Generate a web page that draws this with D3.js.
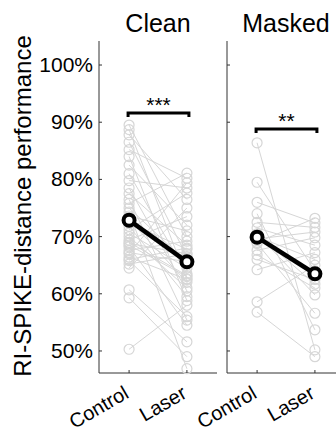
<!DOCTYPE html>
<html>
<head>
<meta charset="utf-8">
<script src="https://cdn.jsdelivr.net/npm/d3@7"></script>
<style>
  html, body { margin: 0; padding: 0; background: #fff; }
  svg { display: block; font-family: "Liberation Sans", Arial, sans-serif; }
</style>
</head>
<body>
<div id="chart"></div>
<script>
// conditions on x
const conditions = ['Control', 'Laser'];
const panelTitles = ['Clean', 'Masked'];
const sigStars = ['***', '**'];
const sigLevels = [91.6, 88.8];
const yTicks = [50, 60, 70, 80, 90, 100];

// paired performance values (%), one entry per recording
const cleanControl = [89.5, 88.7, 87.8, 86.5, 85.2, 84.0, 82.5, 81.0, 79.8, 78.5, 77.5, 76.5, 75.8, 75.0, 74.3, 73.6, 73.0, 72.4, 71.8, 71.2, 70.6, 70.0, 69.4, 69.0, 68.8, 68.5, 68.2, 67.6, 67.2, 67.0, 66.4, 66.0, 65.8, 65.2, 64.5, 60.7, 59.3, 50.3];
const cleanLaser = [70.0, 62.6, 76.5, 66.5, 80.2, 58.8, 72.0, 63.5, 78.5, 60.5, 68.5, 55.4, 81.1, 65.5, 46.9, 71.0, 62.0, 67.8, 59.5, 77.6, 64.5, 61.0, 73.5, 63.2, 67.0, 63.0, 54.5, 69.2, 65.6, 79.4, 62.5, 68.0, 56.0, 67.0, 75.0, 51.6, 49.0, 58.0];
const maskedControl = [86.4, 79.5, 76.0, 74.0, 72.5, 71.5, 70.5, 69.0, 70.0, 70.4, 69.6, 68.8, 67.6, 66.8, 66.0, 64.2, 58.6, 56.8];
const maskedLaser = [50.2, 64.0, 72.4, 53.7, 71.6, 68.5, 59.8, 73.2, 66.0, 61.7, 70.8, 56.6, 69.8, 61.0, 62.5, 67.2, 65.0, 49.0];

const width = 336, height = 434;
const plotTop = 41, plotBottom = 373;
const panelW = 118;
const panelX = [99, 227];
const axisColor = '#333';
const grey = '#d6d6d6';

const svg = d3.select('#chart').append('svg')
  .attr('width', width)
  .attr('height', height);

const y = d3.scaleLinear().domain([46.15, 104.2]).range([plotBottom, plotTop]);

// y label
svg.append('text')
  .attr('transform', `translate(31,206) rotate(-90)`)
  .attr('text-anchor', 'middle')
  .attr('font-size', 24)
  .attr('fill', '#000')
  .text('RI-SPIKE-distance performance');

// tick labels on the first panel only
svg.append('g')
  .selectAll('text')
  .data(yTicks)
  .join('text')
  .attr('x', panelX[0] - 6)
  .attr('y', d => y(d) + 7)
  .attr('text-anchor', 'end')
  .attr('font-size', 21)
  .text(d => d + '%');

function drawPanel(i, ctrl, laser) {
  const x0 = panelX[i];
  const x = d3.scalePoint().domain(conditions).range([x0, x0 + panelW]).padding(0.52);
  const g = svg.append('g');

  // axes
  g.append('line').attr('x1', x0).attr('x2', x0).attr('y1', plotTop).attr('y2', plotBottom)
    .attr('stroke', axisColor).attr('stroke-width', 1);
  g.append('line').attr('x1', x0).attr('x2', x0 + panelW).attr('y1', plotBottom).attr('y2', plotBottom)
    .attr('stroke', axisColor).attr('stroke-width', 1);

  g.selectAll('.ytick').data(yTicks).join('line')
    .attr('x1', x0).attr('x2', x0 + 3)
    .attr('y1', d => y(d)).attr('y2', d => y(d))
    .attr('stroke', axisColor);
  g.selectAll('.xtick').data(conditions).join('line')
    .attr('x1', d => x(d)).attr('x2', d => x(d))
    .attr('y1', plotBottom).attr('y2', plotBottom - 3)
    .attr('stroke', axisColor);

  // x labels, rotated
  g.selectAll('.xlab').data(conditions).join('text')
    .attr('transform', d => `translate(${x(d) + 1},${plotBottom + 24}) rotate(-30)`)
    .attr('text-anchor', 'end')
    .attr('font-size', 20)
    .text(d => d);

  // title
  g.append('text')
    .attr('x', x0 + panelW / 2)
    .attr('y', 32)
    .attr('text-anchor', 'middle')
    .attr('font-size', 25)
    .text(panelTitles[i]);

  // individual pairs
  const pairs = ctrl.map((c, k) => [c, laser[k]]);
  g.append('g').selectAll('line').data(pairs).join('line')
    .attr('x1', x('Control')).attr('x2', x('Laser'))
    .attr('y1', d => y(d[0])).attr('y2', d => y(d[1]))
    .attr('stroke', grey).attr('stroke-width', 1);
  g.append('g').selectAll('circle').data(ctrl).join('circle')
    .attr('cx', x('Control')).attr('cy', d => y(d)).attr('r', 5)
    .attr('fill', 'none').attr('stroke', grey).attr('stroke-width', 1.2);
  g.append('g').selectAll('circle').data(laser).join('circle')
    .attr('cx', x('Laser')).attr('cy', d => y(d)).attr('r', 5)
    .attr('fill', 'none').attr('stroke', grey).attr('stroke-width', 1.2);

  // means
  const means = [d3.mean(ctrl), d3.mean(laser)];
  g.append('line')
    .attr('x1', x('Control')).attr('x2', x('Laser'))
    .attr('y1', y(means[0])).attr('y2', y(means[1]))
    .attr('stroke', '#000').attr('stroke-width', 4.5);
  g.selectAll('.mean').data(means).join('circle')
    .attr('cx', (d, k) => x(conditions[k])).attr('cy', d => y(d)).attr('r', 5.5)
    .attr('fill', '#fff').attr('stroke', '#000').attr('stroke-width', 4);

  // significance bar
  const sy = y(sigLevels[i]);
  const bx1 = x('Control') - 1, bx2 = x('Laser') + 2;
  g.append('path')
    .attr('d', `M${bx1},${sy + 4}V${sy}H${bx2}V${sy + 4}`)
    .attr('fill', 'none').attr('stroke', '#000').attr('stroke-width', 3);
  g.append('text')
    .attr('x', (bx1 + bx2) / 2)
    .attr('y', sy - 1)
    .attr('text-anchor', 'middle')
    .attr('font-size', 21)
    .text(sigStars[i]);
}

drawPanel(0, cleanControl, cleanLaser);
drawPanel(1, maskedControl, maskedLaser);
</script>
</body>
</html>
